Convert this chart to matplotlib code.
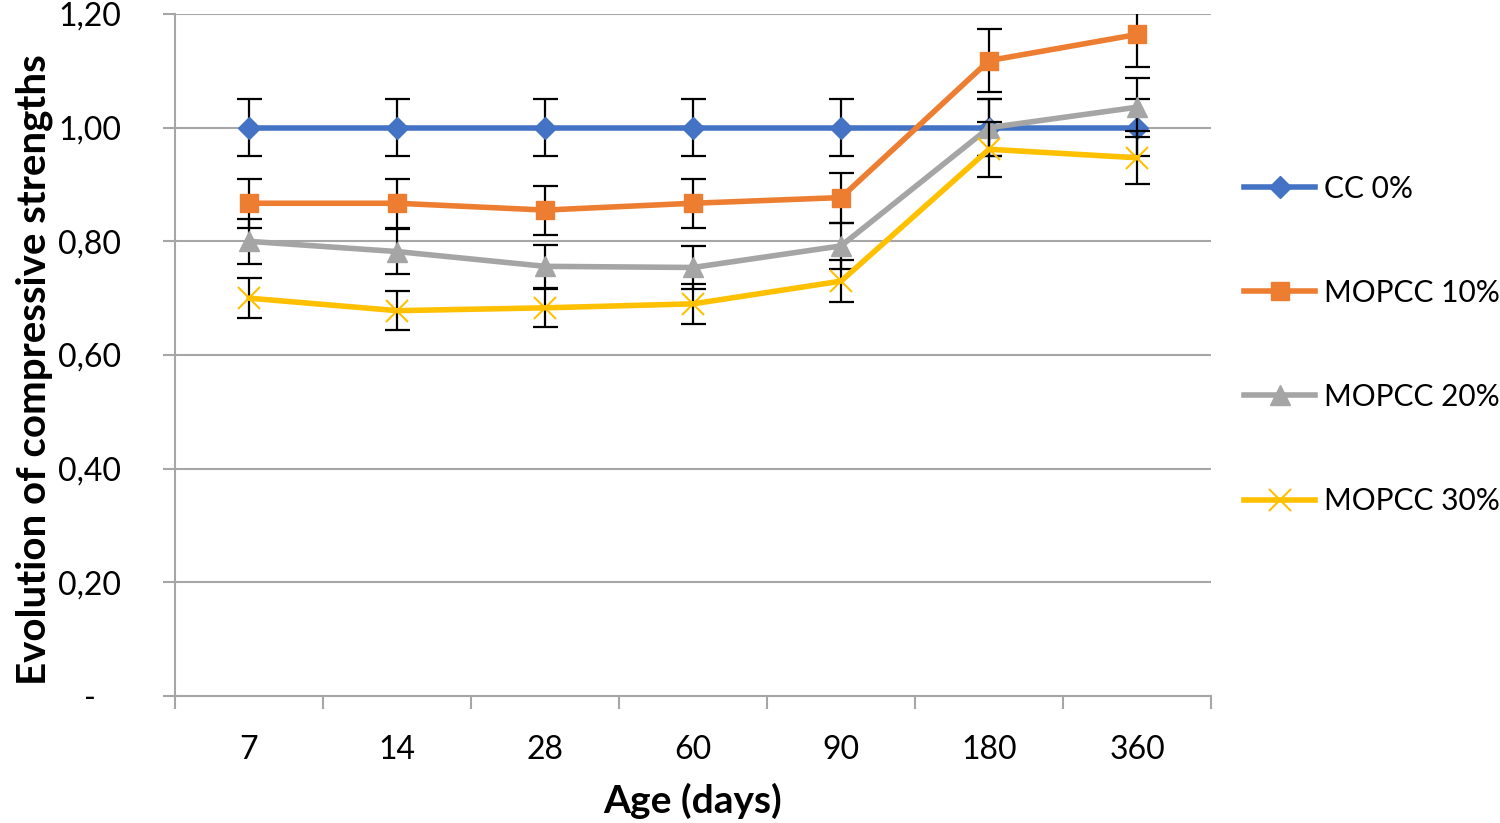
import numpy as np
import matplotlib
matplotlib.use('Agg')
import matplotlib.pyplot as plt

###########################################################
# data

ages = ['7', '14', '28', '60', '90', '180', '360']

cc_0 = [1.00, 1.00, 1.00, 1.00, 1.00, 1.00, 1.00]
mopcc_10 = [0.867, 0.867, 0.855, 0.867, 0.877, 1.118, 1.164]
mopcc_20 = [0.800, 0.782, 0.756, 0.754, 0.792, 1.000, 1.036]
mopcc_30 = [0.700, 0.678, 0.683, 0.690, 0.730, 0.962, 0.947]

err_0 = [0.050, 0.050, 0.050, 0.050, 0.050, 0.050, 0.050]
err_10 = [0.043, 0.043, 0.043, 0.043, 0.044, 0.056, 0.058]
err_20 = [0.040, 0.039, 0.038, 0.038, 0.040, 0.050, 0.052]
err_30 = [0.035, 0.034, 0.034, 0.035, 0.037, 0.048, 0.047]

y_ticks = [0.0, 0.2, 0.4, 0.6, 0.8, 1.0, 1.2]
y_ticklabels = ['-   ', '0,20', '0,40', '0,60', '0,80', '1,00', '1,20']

###########################################################
# plot

plt.rcParams['font.family'] = ['Lato', 'DejaVu Sans']

fig = plt.figure(figsize=(15, 8.23), dpi=100)
ax = fig.add_axes([0.1167, 0.1543, 0.6907, 0.8287])

x = np.arange(len(ages))
grid_col = '#a6a6a6'

series = [
    ('CC 0%', cc_0, err_0, '#4472c4', 'D', 11, None),
    ('MOPCC 10%', mopcc_10, err_10, '#ed7d31', 's', 13, None),
    ('MOPCC 20%', mopcc_20, err_20, '#a5a5a5', '^', 14, None),
    ('MOPCC 30%', mopcc_30, err_30, '#ffc000', 'x', 16, 1.5),
]

for i, (name, vals, errs, col, mk, ms, mew) in enumerate(series):
    ax.errorbar(x, vals, yerr=errs, fmt='none', ecolor='black', elinewidth=1.6,
                capsize=9, capthick=1.6, zorder=3 + i * 2)
    ax.plot(x, vals, color=col, lw=4, marker=mk, markersize=ms,
            markeredgewidth=mew if mew else 1, markeredgecolor=col,
            markerfacecolor=col, label=name, zorder=4 + i * 2)

ax.set_xlim(-0.5, len(ages) - 0.5)
ax.set_ylim(0, 1.2)

# y axis
ax.set_yticks(y_ticks)
ax.set_yticklabels(y_ticklabels)
ax.yaxis.grid(True, color=grid_col, lw=1.5)
ax.set_axisbelow(True)
ax.tick_params(axis='y', length=9, width=1.5, color=grid_col, labelsize=23, pad=30)

# x axis: tick marks between categories, labels at centres
ax.set_xticks(np.arange(-0.5, len(ages)))
ax.set_xticklabels([])
ax.tick_params(axis='x', which='major', direction='out', length=9, width=1.5, color=grid_col)
ax.set_xticks(x, minor=True)
ax.set_xticklabels(ages, minor=True)
ax.tick_params(axis='x', which='minor', length=0, labelsize=23, pad=28)

for s in ['top', 'right']:
    ax.spines[s].set_visible(False)
for s in ['left', 'bottom']:
    ax.spines[s].set_color(grid_col)
    ax.spines[s].set_linewidth(1.5)

ax.set_xlabel('Age (days)', fontsize=28, fontweight='bold', labelpad=13)
ax.set_ylabel('Evolution of compressive strengths', fontsize=29, fontweight='bold')
ax.yaxis.set_label_coords(-0.118, 0.478)

ax.legend(loc='center left', bbox_to_anchor=(1.02, 0.515), frameon=False, fontsize=21.5,
          handlelength=2.4, handletextpad=0.3, labelspacing=2.55, borderaxespad=0)

plt.savefig('out.png', dpi=100)
